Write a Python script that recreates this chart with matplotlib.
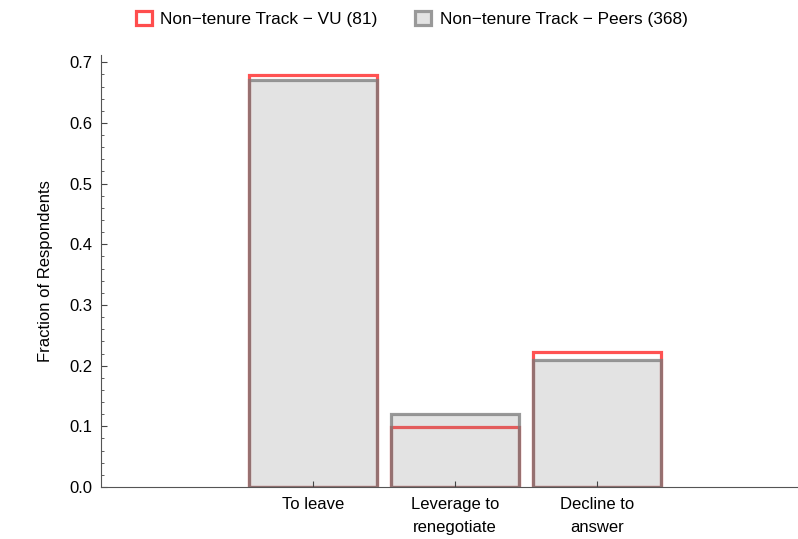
import numpy as np
import matplotlib.pyplot as plt
from matplotlib.patches import Patch
from matplotlib.ticker import MultipleLocator

plt.rcParams['font.family'] = ['Liberation Sans', 'DejaVu Sans']

categories = ['To leave', 'Leverage to\nrenegotiate', 'Decline to\nanswer']
vu_counts = [55, 8, 18]        # n = 81
peer_counts = [247, 44, 77]    # n = 368
vu_n = 81
peer_n = 368

vu = np.array(vu_counts) / vu_n
peers = np.array(peer_counts) / peer_n

fig = plt.figure(figsize=(7.98, 5.39), dpi=100)
ax = fig.add_axes([101 / 798, 1 - 487 / 539, 697 / 798, 432 / 539])

x = np.arange(1, len(categories) + 1)
w = 0.9
red_edge = (1.0, 0.32, 0.32)
gray_fill = (0.5, 0.5, 0.5, 0.22)
gray_edge = (0.48, 0.48, 0.48, 0.76)

# VU underneath, peers semi-transparent on top (like the Mathematica overlay)
ax.bar(x, vu, width=w, facecolor='none', edgecolor=red_edge, linewidth=2.3)
ax.bar(x, peers, width=w, facecolor=gray_fill, edgecolor=gray_edge, linewidth=2.3)

ax.set_xlim(-0.493, 4.415)
ax.set_ylim(0, 0.712)
ax.set_xticks(x)
ax.set_xticklabels(categories, fontsize=12, linespacing=1.7)
ax.yaxis.set_major_locator(MultipleLocator(0.1))
ax.yaxis.set_minor_locator(MultipleLocator(0.02))
ax.set_yticks(np.arange(0, 0.71, 0.1))
ax.set_yticklabels([f'{v:.1f}' for v in np.arange(0, 0.71, 0.1)], fontsize=12)
ax.tick_params(axis='x', which='major', direction='in', length=4, width=0.8, color='#444444', pad=7)
ax.tick_params(axis='y', which='major', direction='in', length=4, width=0.8, color='#444444', pad=6)
ax.tick_params(axis='y', which='minor', direction='in', length=2.5, width=0.6, color='#444444')
ax.set_ylabel('Fraction of Respondents', fontsize=12, labelpad=12)

for s in ['top', 'right']:
    ax.spines[s].set_visible(False)
for s in ['left', 'bottom']:
    ax.spines[s].set_color('#555555')
    ax.spines[s].set_linewidth(0.8)

handles = [
    Patch(facecolor='white', edgecolor=(1.0, 0.3, 0.3), linewidth=2.3,
          label='Non\u2212tenure Track \u2212 VU (81)'),
    Patch(facecolor='#e3e3e3', edgecolor=(0.6, 0.6, 0.6), linewidth=2.3,
          label='Non\u2212tenure Track \u2212 Peers (368)'),
]
fig.legend(handles=handles, loc='center', bbox_to_anchor=(0.516, 1 - 19 / 539), ncol=2,
           frameon=False, fontsize=12.4, handlelength=0.9, handleheight=0.9,
           handletextpad=0.5, columnspacing=2.2)

fig.savefig('out.png', dpi=100)
